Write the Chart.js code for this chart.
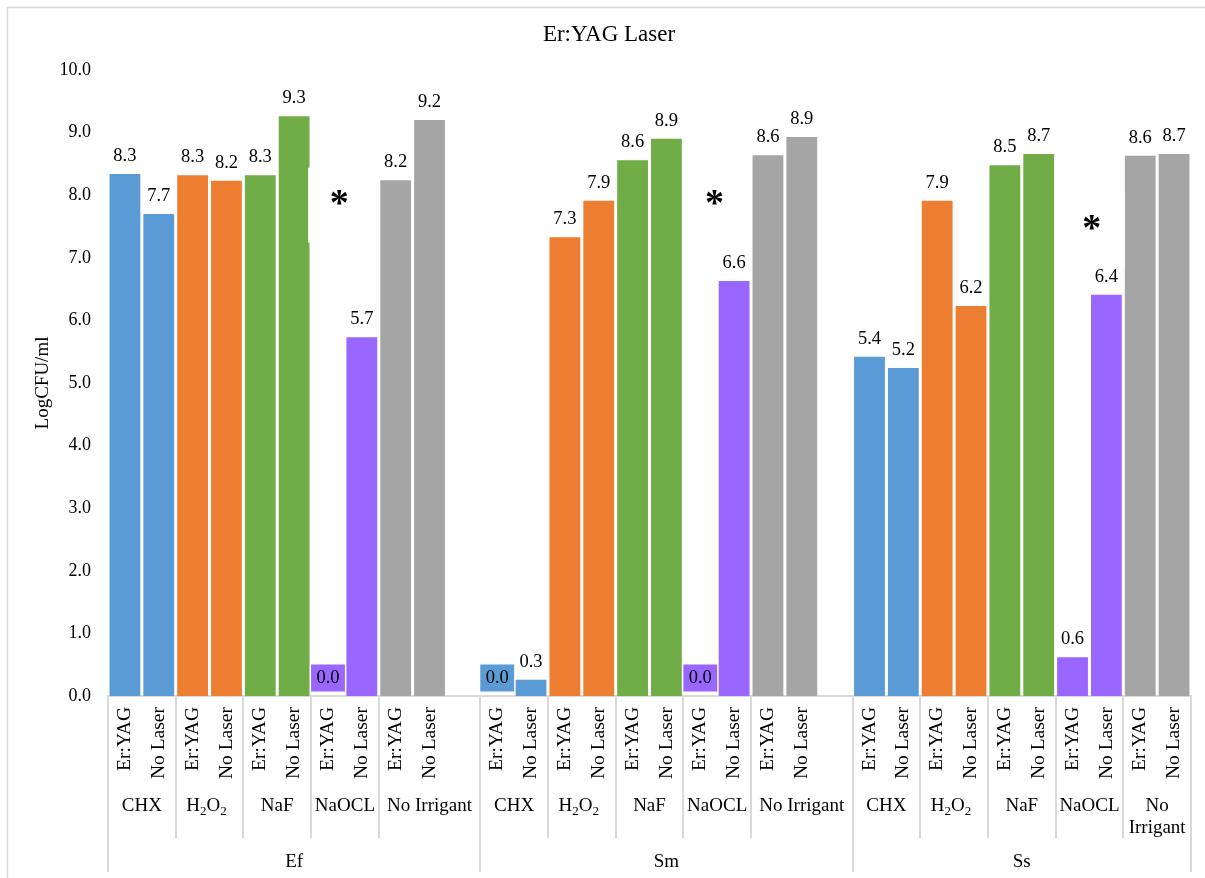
<!DOCTYPE html>
<html>
<head>
<meta charset="utf-8">
<title>Er:YAG Laser</title>
<script src="https://cdn.jsdelivr.net/npm/chart.js@4/dist/chart.umd.min.js"></script>
<style>
  html, body { margin: 0; padding: 0; background: #ffffff; }
  #wrap { width: 1205px; height: 878px; position: relative; }
</style>
</head>
<body>
<div id="wrap"><canvas id="chart" width="1205" height="878"></canvas></div>
<script>
// Bacteria groups, irrigants and laser treatments
const groups = ['Ef', 'Sm', 'Ss'];
const irrigants = ['CHX', 'H2O2', 'NaF', 'NaOCL', 'No Irrigant'];
const treatments = ['Er:YAG', 'No Laser'];

// LogCFU/ml per group, ordered irrigant by irrigant (Er:YAG, No Laser)
const efValues = [8.34, 7.70, 8.32, 8.23, 8.32, 9.26, 0.00, 5.73, 8.24, 9.20];
const smValues = [0.00, 0.26, 7.33, 7.91, 8.56, 8.90, 0.00, 6.63, 8.64, 8.93];
const ssValues = [5.42, 5.24, 7.91, 6.23, 8.48, 8.66, 0.62, 6.41, 8.63, 8.66];

// Y axis ticks
const yTicks = [0, 1, 2, 3, 4, 5, 6, 7, 8, 9, 10];

// Groups marked with a significance asterisk (over the NaOCL pair)
const significantGroups = ['Ef', 'Sm', 'Ss'];

const irrigantColors = ['#5B9BD5', '#ED7D31', '#70AD47', '#9966FF', '#A5A5A5'];
const FONT = '"Liberation Serif", "Times New Roman", serif';
const LINE = '#d9d9d9';

// Flatten into category slots; an empty slot trails Ef and Sm
const groupValues = [efValues, smValues, ssValues];
const slotLabels = [], slotValues = [], slotColors = [], slotIrrigant = [], slotGroup = [];
groups.forEach((g, gi) => {
  irrigants.forEach((ir, ii) => {
    treatments.forEach((t, ti) => {
      slotLabels.push(t);
      slotValues.push(groupValues[gi][ii * 2 + ti]);
      slotColors.push(irrigantColors[ii]);
      slotIrrigant.push(ii);
      slotGroup.push(gi);
    });
  });
  if (gi < groups.length - 1) {
    slotLabels.push('');
    slotValues.push(null);
    slotColors.push('rgba(0,0,0,0)');
    slotIrrigant.push(irrigants.length - 1);
    slotGroup.push(gi);
  }
});

// Asterisk placement: offset inside the NaOCL slot and height in data units
const asteriskPlacement = {
  Ef: { shift: 0.33, value: 7.96 },
  Sm: { shift: 0.42, value: 7.96 },
  Ss: { shift: 0.57, value: 7.57 }
};

// Draws a label, rendering digits as subscripts (H2O2 -> H₂O₂)
function drawChemLabel(ctx, text, cx, baseline, size) {
  const full = size + 'px ' + FONT;
  const sub = Math.round(size * 0.66) + 'px ' + FONT;
  ctx.font = full;
  const fullWidth = ctx.measureText(text).width;
  let xPos = cx - fullWidth / 2;
  ctx.textAlign = 'left';
  ctx.textBaseline = 'alphabetic';
  for (const ch of text) {
    const isSub = /[0-9]/.test(ch) && /[A-Za-z]/.test(text);
    ctx.font = isSub ? sub : full;
    ctx.fillText(ch, xPos, baseline + (isSub ? 3.5 : 0));
    xPos += ctx.measureText(ch).width;
  }
}

const chartDecor = {
  id: 'chartDecor',
  afterDatasetsDraw(chart) {
    const { ctx, scales: { x, y } } = chart;
    const slotW = (x.right - x.left) / slotLabels.length;
    const meta = chart.getDatasetMeta(0);
    ctx.save();
    // value labels
    ctx.font = '18.5px ' + FONT;
    ctx.textAlign = 'center';
    ctx.textBaseline = 'middle';
    meta.data.forEach((bar, i) => {
      const v = slotValues[i];
      if (v === null || v === undefined) return;
      const cy = y.getPixelForValue(v) - 18;
      if (v === 0) {
        ctx.fillStyle = slotColors[i];
        ctx.fillRect(bar.x - slotW / 2, cy - 13.5, slotW, 27);
      }
      ctx.fillStyle = '#000000';
      ctx.fillText(v.toFixed(1), bar.x, cy);
    });
    // significance asterisks in white text boxes
    significantGroups.forEach(g => {
      const gi = groups.indexOf(g);
      const first = slotGroup.indexOf(gi);
      const naoclSlot = first + irrigants.indexOf('NaOCL') * 2;
      const p = asteriskPlacement[g];
      const cx = x.getPixelForValue(naoclSlot + p.shift);
      const cy = y.getPixelForValue(p.value);
      ctx.fillStyle = '#ffffff';
      ctx.fillRect(cx - 31, cy - 30, 64, 75);
      ctx.font = 'bold 38px ' + FONT;
      ctx.textAlign = 'left';
      ctx.textBaseline = 'alphabetic';
      const m = ctx.measureText('*');
      const gw = m.actualBoundingBoxRight + m.actualBoundingBoxLeft;
      const gh = m.actualBoundingBoxAscent + m.actualBoundingBoxDescent;
      ctx.fillStyle = '#000000';
      ctx.fillText('*', cx - gw / 2 + m.actualBoundingBoxLeft, cy + gh / 2 - m.actualBoundingBoxDescent);
    });
    ctx.restore();
  },
  afterDraw(chart) {
    const { ctx, scales: { x } } = chart;
    const slotW = (x.right - x.left) / slotLabels.length;
    const axisY = x.top;
    ctx.save();
    ctx.fillStyle = '#000000';

    // first level: treatment labels, rotated
    ctx.font = '19.5px ' + FONT;
    slotLabels.forEach((lab, i) => {
      if (!lab) return;
      ctx.save();
      ctx.translate(x.getPixelForValue(i), axisY + 11);
      ctx.rotate(-Math.PI / 2);
      ctx.textAlign = 'right';
      ctx.textBaseline = 'middle';
      ctx.fillText(lab, 0, 0);
      ctx.restore();
    });

    // runs of irrigants and groups
    const irrRuns = [], grpRuns = [];
    for (let i = 0; i < slotLabels.length; i++) {
      const lastI = irrRuns[irrRuns.length - 1];
      if (!lastI || lastI.ir !== slotIrrigant[i] || lastI.g !== slotGroup[i]) {
        irrRuns.push({ ir: slotIrrigant[i], g: slotGroup[i], s: i, e: i + 1 });
      } else lastI.e = i + 1;
      const lastG = grpRuns[grpRuns.length - 1];
      if (!lastG || lastG.g !== slotGroup[i]) grpRuns.push({ g: slotGroup[i], s: i, e: i + 1 });
      else lastG.e = i + 1;
    }

    // separators
    ctx.strokeStyle = LINE;
    ctx.lineWidth = 2;
    irrRuns.forEach(r => {
      if (r.ir === 0) return;
      const bx = Math.round(x.left + r.s * slotW);
      ctx.beginPath(); ctx.moveTo(bx, axisY); ctx.lineTo(bx, axisY + 142); ctx.stroke();
    });
    grpRuns.forEach(r => {
      [r.s, r.e].forEach(k => {
        const bx = Math.round(x.left + k * slotW);
        ctx.beginPath(); ctx.moveTo(bx, axisY); ctx.lineTo(bx, axisY + 176); ctx.stroke();
      });
    });

    // second level: irrigant labels (wrapped when wider than the span)
    ctx.fillStyle = '#000000';
    irrRuns.forEach(r => {
      const name = irrigants[r.ir];
      const cx = x.left + (r.s + r.e) / 2 * slotW;
      const span = (r.e - r.s) * slotW;
      ctx.font = '19px ' + FONT;
      if (ctx.measureText(name).width > span - 4 && name.indexOf(' ') > 0) {
        name.split(' ').forEach((w, k) => drawChemLabel(ctx, w, cx, axisY + 115 + k * 22, 19));
      } else {
        drawChemLabel(ctx, name, cx, axisY + 115, 19);
      }
    });

    // third level: group labels
    ctx.font = '19px ' + FONT;
    ctx.textAlign = 'center';
    ctx.textBaseline = 'alphabetic';
    grpRuns.forEach(r => {
      ctx.fillText(groups[r.g], x.left + (r.s + r.e) / 2 * slotW, axisY + 171);
    });

    // chart frame
    ctx.strokeStyle = LINE;
    ctx.lineWidth = 1.5;
    ctx.strokeRect(7.5, 7.5, 1210, 890);
    ctx.restore();
  }
};

new Chart(document.getElementById('chart'), {
  type: 'bar',
  data: {
    labels: slotLabels,
    datasets: [{
      label: 'LogCFU/ml',
      data: slotValues,
      backgroundColor: slotColors,
      borderWidth: 0,
      barPercentage: 0.91,
      categoryPercentage: 1.0
    }]
  },
  options: {
    responsive: false,
    animation: false,
    devicePixelRatio: 1,
    layout: { padding: { left: 27, right: 14, top: 0, bottom: 0 } },
    plugins: {
      legend: { display: false },
      tooltip: { enabled: false },
      title: {
        display: true,
        text: 'Er:YAG Laser',
        color: '#000000',
        font: { family: FONT, size: 23, weight: 'normal' },
        padding: { top: 21.2, bottom: 21.2 }
      }
    },
    scales: {
      x: {
        grid: { display: false, drawTicks: false },
        border: { display: true, color: LINE, width: 2 },
        ticks: { display: false },
        afterFit: s => { s.height = 182; }
      },
      y: {
        min: yTicks[0],
        max: yTicks[yTicks.length - 1],
        afterBuildTicks: s => { s.ticks = yTicks.map(v => ({ value: v })); },
        ticks: {
          callback: v => Number(v).toFixed(1),
          color: '#000000',
          font: { family: FONT, size: 18 },
          padding: 17
        },
        grid: { display: false, drawTicks: false },
        border: { display: false },
        title: {
          display: true,
          text: 'LogCFU/ml',
          color: '#000000',
          font: { family: FONT, size: 19 },
          padding: { top: 5, bottom: 0 }
        },
        afterFit: s => { s.width = 81; }
      }
    }
  },
  plugins: [chartDecor]
});
</script>
</body>
</html>
